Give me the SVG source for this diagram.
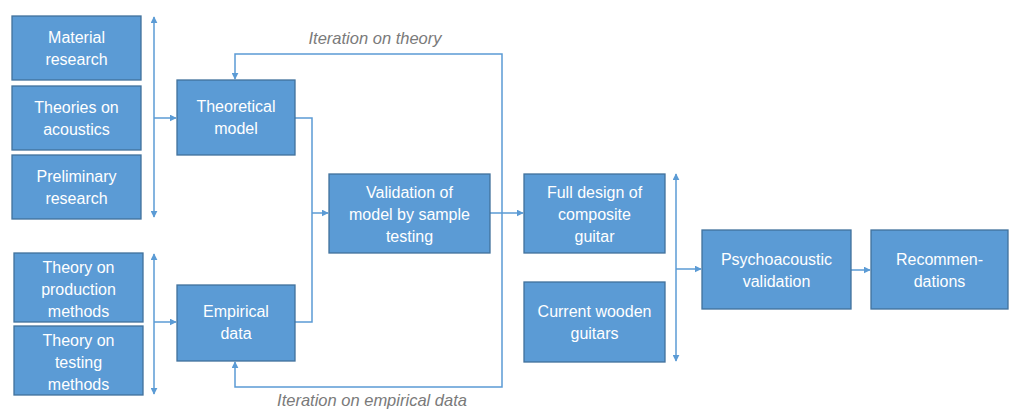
<svg xmlns="http://www.w3.org/2000/svg" width="1010" height="410" viewBox="0 0 1010 410">
<defs>
<style>
.box{fill:#5B9BD5;stroke:#41719C;stroke-width:1.3}
.t{font-family:"Liberation Sans",Arial,sans-serif;font-size:16px;fill:#fff;text-anchor:middle}
.c{fill:none;stroke:#5B9BD5;stroke-width:1.5}
.lbl{font-family:"Liberation Sans",Arial,sans-serif;font-size:16.5px;font-style:italic;fill:#7A7A7A;text-anchor:middle}
</style>
<marker id="ah" viewBox="0 0 10 10" refX="9" refY="5" markerWidth="7" markerHeight="7" markerUnits="userSpaceOnUse" orient="auto-start-reverse"><path d="M0,0 L10,5 L0,10 z" fill="#5B9BD5"/></marker>
</defs>
<g id="connectors">
<path class="c" d="M154,17 V217" marker-start="url(#ah)" marker-end="url(#ah)"/>
<path class="c" d="M154,118 H176" marker-end="url(#ah)"/>
<path class="c" d="M154,254 V394" marker-start="url(#ah)" marker-end="url(#ah)"/>
<path class="c" d="M154,322 H176" marker-end="url(#ah)"/>
<path class="c" d="M295,118 H312 V322 H295"/>
<path class="c" d="M312,213 H328" marker-end="url(#ah)"/>
<path class="c" d="M490,213 H523" marker-end="url(#ah)"/>
<path class="c" d="M502,213 V54 H235 V79" marker-end="url(#ah)"/>
<path class="c" d="M502,213 V387 H235 V362" marker-end="url(#ah)"/>
<path class="c" d="M676,174 V361" marker-start="url(#ah)" marker-end="url(#ah)"/>
<path class="c" d="M676,269 H701" marker-end="url(#ah)"/>
<path class="c" d="M851,270 H870" marker-end="url(#ah)"/>
</g>
<text class="lbl" x="375" y="44">Iteration on theory</text>
<text class="lbl" x="372" y="406">Iteration on empirical data</text>
<g id="material"><rect class="box" x="12" y="16" width="129" height="64"/><text class="t" x="76.5" y="43">Material</text><text class="t" x="76.5" y="65">research</text></g>
<g id="acoustics"><rect class="box" x="12" y="86" width="129" height="64"/><text class="t" x="76.5" y="113">Theories on</text><text class="t" x="76.5" y="135">acoustics</text></g>
<g id="preliminary"><rect class="box" x="12" y="155" width="129" height="64"/><text class="t" x="76.5" y="182">Preliminary</text><text class="t" x="76.5" y="204">research</text></g>
<g id="production"><rect class="box" x="14" y="253" width="129" height="69"/><text class="t" x="78.5" y="273">Theory on</text><text class="t" x="78.5" y="295">production</text><text class="t" x="78.5" y="317">methods</text></g>
<g id="testingmethods"><rect class="box" x="14" y="326" width="129" height="69"/><text class="t" x="78.5" y="346">Theory on</text><text class="t" x="78.5" y="368">testing</text><text class="t" x="78.5" y="390">methods</text></g>
<g id="theoretical"><rect class="box" x="177" y="80" width="118" height="75"/><text class="t" x="236" y="112">Theoretical</text><text class="t" x="236" y="134">model</text></g>
<g id="empirical"><rect class="box" x="177" y="285" width="118" height="76"/><text class="t" x="236" y="317">Empirical</text><text class="t" x="236" y="339">data</text></g>
<g id="validation"><rect class="box" x="329" y="174" width="161" height="79"/><text class="t" x="409.5" y="198">Validation of</text><text class="t" x="409.5" y="220">model by sample</text><text class="t" x="409.5" y="242">testing</text></g>
<g id="fulldesign"><rect class="box" x="524" y="174" width="141" height="79"/><text class="t" x="594.5" y="198">Full design of</text><text class="t" x="594.5" y="220">composite</text><text class="t" x="594.5" y="242">guitar</text></g>
<g id="wooden"><rect class="box" x="524" y="282" width="141" height="80"/><text class="t" x="594.5" y="317">Current wooden</text><text class="t" x="594.5" y="339">guitars</text></g>
<g id="psycho"><rect class="box" x="702" y="230" width="149" height="79"/><text class="t" x="776.5" y="265">Psychoacoustic</text><text class="t" x="776.5" y="287">validation</text></g>
<g id="recommendations"><rect class="box" x="871" y="230" width="137" height="79"/><text class="t" x="939.5" y="265">Recommen-</text><text class="t" x="939.5" y="287">dations</text></g>
</svg>
